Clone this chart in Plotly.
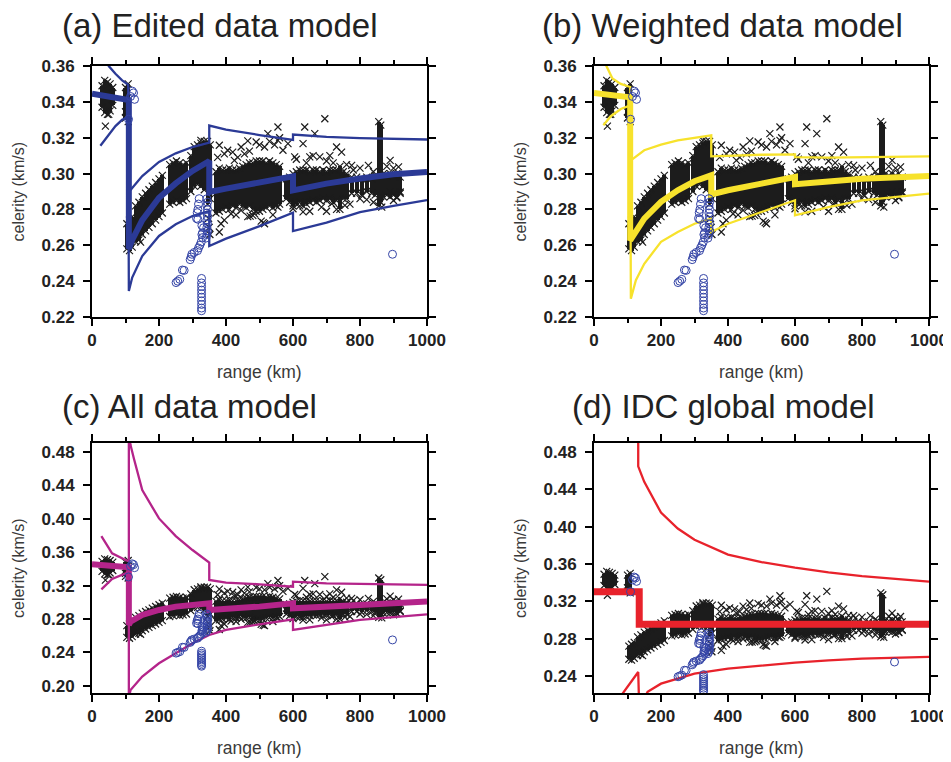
import plotly.graph_objects as go

# observed arrivals (same in all four panels)
# dense station clusters: range, lower and upper celerity of each column
cloud_x = [30, 38, 46, 54, 62, 100, 108, 104, 112, 120,
           130, 140, 150, 160, 170, 180, 190, 200, 210,
           232, 242, 252, 262, 272, 282, 295, 305, 315, 325, 335, 345, 353,
           370, 380, 390, 400, 410, 420, 430, 440, 450, 460, 470, 480, 490,
           500, 510, 520, 530, 540, 550, 560, 580, 590, 600, 610, 620, 630,
           640, 650, 660, 670, 680, 690, 700, 710, 720, 730, 740, 750, 760,
           775, 790, 805, 820, 835, 845, 856, 862, 870, 880, 890, 900, 910, 920]
cloud_lo = [0.337, 0.334, 0.333, 0.335, 0.338, 0.331, 0.329, 0.258, 0.257, 0.259,
            0.262, 0.263, 0.266, 0.268, 0.270, 0.272, 0.274, 0.276, 0.278,
            0.283, 0.284, 0.285, 0.284, 0.285, 0.286, 0.290, 0.293, 0.294, 0.293, 0.291, 0.283, 0.286,
            0.278, 0.279, 0.280, 0.281, 0.280, 0.282, 0.281, 0.283, 0.282, 0.281, 0.282, 0.280, 0.279,
            0.279, 0.280, 0.281, 0.282, 0.281, 0.282, 0.283, 0.286, 0.284, 0.282, 0.283, 0.284, 0.282,
            0.283, 0.284, 0.285, 0.284, 0.285, 0.286, 0.285, 0.286, 0.284, 0.285, 0.280, 0.286, 0.286,
            0.289, 0.289, 0.288, 0.290, 0.289, 0.288, 0.282, 0.284, 0.287, 0.288, 0.287, 0.288, 0.287, 0.289]
cloud_hi = [0.349, 0.352, 0.351, 0.350, 0.348, 0.348, 0.350, 0.272, 0.274, 0.276,
            0.282, 0.284, 0.287, 0.289, 0.291, 0.293, 0.295, 0.297, 0.299,
            0.305, 0.306, 0.307, 0.306, 0.305, 0.306, 0.310, 0.315, 0.316, 0.317, 0.318, 0.318, 0.316,
            0.301, 0.303, 0.302, 0.302, 0.303, 0.302, 0.302, 0.303, 0.304, 0.305, 0.306, 0.306, 0.307,
            0.307, 0.307, 0.306, 0.307, 0.306, 0.305, 0.304, 0.297, 0.298, 0.300, 0.301, 0.302, 0.302,
            0.302, 0.301, 0.302, 0.302, 0.301, 0.302, 0.301, 0.302, 0.302, 0.302, 0.304, 0.301, 0.300,
            0.298, 0.298, 0.297, 0.298, 0.297, 0.299, 0.329, 0.327, 0.300, 0.299, 0.300, 0.299, 0.300, 0.298]

# isolated arrivals
scatter_x = [40, 50, 100, 145, 135, 325, 348, 350, 352,
             380, 405, 425, 445, 465, 490, 515, 525, 555, 555, 585, 570, 605, 630, 635,
             665, 695, 730, 745, 775, 825, 890, 915, 680, 650,
             385, 380, 415, 445, 480, 485, 515, 555, 600, 630, 685, 715, 755, 800, 865,
             890, 920, 511, 472,
             375, 395, 420, 435, 455, 470, 500, 530, 545, 560, 395, 430, 465, 505, 540,
             610, 640, 660, 700, 710, 720, 760, 780, 800, 840, 880, 900,
             620, 650, 700, 730, 770, 820, 840, 900, 910]
scatter_y = [0.3265, 0.333, 0.3345, 0.2618, 0.2646, 0.3185, 0.275, 0.270, 0.266,
             0.3158, 0.313, 0.3074, 0.3148, 0.3182, 0.3176, 0.3148, 0.3223, 0.326, 0.3185, 0.3167, 0.313, 0.3093, 0.3167, 0.326,
             0.3223, 0.3306, 0.3148, 0.312, 0.3046, 0.3046, 0.3074, 0.3037, 0.3093, 0.3093,
             0.272, 0.2674, 0.2776, 0.2795, 0.2767, 0.2776, 0.272, 0.2813, 0.2804, 0.2786, 0.2813, 0.2832, 0.2823, 0.286, 0.2813,
             0.2897, 0.2897, 0.2726, 0.2763,
             0.309, 0.311, 0.312, 0.309, 0.311, 0.3125, 0.316, 0.318, 0.316, 0.320, 0.274, 0.277, 0.276, 0.2735, 0.277,
             0.308, 0.306, 0.310, 0.307, 0.310, 0.306, 0.305, 0.302, 0.303, 0.301, 0.304, 0.303,
             0.282, 0.279, 0.279, 0.280, 0.283, 0.2855, 0.284, 0.285, 0.2865]

# excluded arrivals (open circles)
circle_x = [109, 115, 120, 124, 127,
            251, 256, 262, 270, 275, 293, 296, 298, 305, 315, 318, 322, 326, 330, 328, 330, 333,
            328, 316, 312, 314, 316, 318, 320,
            327, 327, 327, 327, 327, 327, 327, 327, 327, 327,
            343, 345, 343, 345, 343, 345, 343, 345, 343, 345, 343, 340,
            897]
circle_y = [0.3303, 0.343, 0.346, 0.345, 0.3414,
            0.2392, 0.2400, 0.2410, 0.2462, 0.2460, 0.2520, 0.2535, 0.2550, 0.2560, 0.2570, 0.2585, 0.2600, 0.2618, 0.2643, 0.2660, 0.2670, 0.2698,
            0.2710, 0.2745, 0.2750, 0.2782, 0.2800, 0.2830, 0.2860,
            0.2415, 0.2390, 0.2370, 0.2350, 0.2330, 0.2310, 0.2290, 0.2270, 0.2250, 0.2235,
            0.2860, 0.2840, 0.2820, 0.2800, 0.2780, 0.2760, 0.2740, 0.2720, 0.2700, 0.2680, 0.2660, 0.2640,
            0.2550]

# (a) edited data model
a_mid_x = [0, 50, 105, 110, 110, 120, 150, 200, 250, 300, 350, 350, 400, 500, 600, 600, 700, 800, 900, 1000]
a_mid_y = [0.3445, 0.343, 0.341, 0.341, 0.258, 0.263, 0.274, 0.2865, 0.2945, 0.3015, 0.307, 0.2897, 0.2916, 0.2953, 0.2985, 0.2906, 0.2944, 0.2972, 0.2996, 0.3009]
a_up_x = [30, 50, 70, 90, 108, 110, 120, 150, 200, 250, 300, 350, 350, 400, 500, 600, 600, 700, 800, 1000]
a_up_y = [0.368, 0.360, 0.3557, 0.352, 0.3495, 0.2897, 0.292, 0.2986, 0.3065, 0.3113, 0.3148, 0.3172, 0.3268, 0.3245, 0.3215, 0.3188, 0.3218, 0.3205, 0.3198, 0.319]
a_lo_x = [25, 50, 70, 90, 108, 110, 120, 150, 200, 250, 300, 350, 350, 400, 500, 600, 600, 700, 800, 900, 1000]
a_lo_y = [0.3155, 0.322, 0.3265, 0.330, 0.3315, 0.2345, 0.242, 0.254, 0.2652, 0.2717, 0.2763, 0.2791, 0.2596, 0.2637, 0.2707, 0.2782, 0.2679, 0.2726, 0.2785, 0.2820, 0.2852]

# (b) weighted data model
b_mid_x = [0, 50, 105, 108, 108, 125, 150, 200, 250, 300, 350, 350, 400, 500, 600, 600, 700, 800, 1000]
b_mid_y = [0.345, 0.344, 0.3427, 0.3425, 0.2627, 0.268, 0.2749, 0.2842, 0.2907, 0.2957, 0.299, 0.2884, 0.2907, 0.2944, 0.2981, 0.294, 0.2957, 0.2971, 0.2986]
b_up_x = [30, 37, 55, 80, 108, 110, 150, 200, 250, 300, 350, 350, 400, 500, 600, 600, 700, 1000]
b_up_y = [0.364, 0.36, 0.353, 0.350, 0.3483, 0.3074, 0.313, 0.3161, 0.3185, 0.32, 0.3213, 0.3096, 0.31, 0.3105, 0.3107, 0.3092, 0.3089, 0.3096]
b_lo_x = [28, 50, 80, 108, 110, 125, 150, 200, 250, 300, 350, 350, 400, 500, 600, 600, 700, 800, 1000]
b_lo_y = [0.3269, 0.332, 0.336, 0.338, 0.2302, 0.2405, 0.2497, 0.2619, 0.2674, 0.272, 0.2749, 0.2674, 0.272, 0.2786, 0.2851, 0.2767, 0.2813, 0.285, 0.2888]

# (c) all data model
c_mid_x = [0, 50, 100, 110, 110, 115, 150, 200, 250, 300, 350, 350, 400, 500, 600, 600, 800, 1000]
c_mid_y = [0.3454, 0.344, 0.3426, 0.342, 0.2729, 0.2769, 0.2848, 0.2908, 0.2948, 0.2968, 0.2988, 0.2908, 0.292, 0.2948, 0.2988, 0.2928, 0.2968, 0.3008]
c_up_x = [28, 60, 100, 110, 110, 115, 125, 150, 200, 250, 300, 350, 350, 400, 500, 600, 600, 700, 1000]
c_up_y = [0.3792, 0.3585, 0.3505, 0.349, 0.50, 0.488, 0.472, 0.4342, 0.4003, 0.3792, 0.3625, 0.3474, 0.3267, 0.3235, 0.3215, 0.3187, 0.3247, 0.3227, 0.3207]
c_lo_x = [28, 60, 100, 110, 110, 115, 150, 200, 250, 300, 350, 400, 500, 600, 600, 700, 800, 1000]
c_lo_y = [0.3155, 0.328, 0.3346, 0.335, 0.185, 0.1952, 0.2111, 0.2271, 0.239, 0.251, 0.2609, 0.2669, 0.2737, 0.2797, 0.2669, 0.2729, 0.2789, 0.2856]

# (d) IDC global model
d_mid_x = [0, 135, 135, 1000]
d_mid_y = [0.3303, 0.3303, 0.2955, 0.2955]
d_up_x = [132, 132, 150, 200, 250, 300, 400, 500, 600, 700, 800, 1000]
d_up_y = [0.50, 0.4646, 0.448, 0.415, 0.398, 0.386, 0.370, 0.362, 0.356, 0.351, 0.347, 0.341]
d_lo_x = [85, 132, 135, 160, 200, 300, 400, 500, 600, 700, 800, 1000]
d_lo_y = [0.221, 0.2443, 0.205, 0.223, 0.2318, 0.2425, 0.2479, 0.2514, 0.2543, 0.2568, 0.2586, 0.2604]

# page body has an 8px margin, so the figure starts 8px in from the corner
OFF = 8
W, H = 951 - OFF, 762 - OFF


def fx(p):
    return (p - OFF) / W


def fy(p):
    return 1 - (p - OFF) / H


panels = [
    dict(title='(a) Edited data model', color='#2b3a96', px=(92, 427), py=(66, 317),
         yr=[0.22, 0.36], yt=[0.22, 0.24, 0.26, 0.28, 0.30, 0.32, 0.34, 0.36],
         curves=[(a_lo_x, a_lo_y), (a_up_x, a_up_y)], mid=(a_mid_x, a_mid_y), tx=60, ty=26, mw=6),
    dict(title='(b) Weighted data model', color='#f7e22c', px=(594, 929), py=(66, 317),
         yr=[0.22, 0.36], yt=[0.22, 0.24, 0.26, 0.28, 0.30, 0.32, 0.34, 0.36],
         curves=[(b_lo_x, b_lo_y), (b_up_x, b_up_y)], mid=(b_mid_x, b_mid_y), tx=540, ty=26, mw=6),
    dict(title='(c) All data model', color='#b4248a', px=(92, 427), py=(443, 693),
         yr=[0.1915, 0.4905], yt=[0.20, 0.24, 0.28, 0.32, 0.36, 0.40, 0.44, 0.48],
         curves=[(c_lo_x, c_lo_y), (c_up_x, c_up_y)], mid=(c_mid_x, c_mid_y), tx=60, ty=406, mw=6),
    dict(title='(d) IDC global model', color='#e8222b', px=(594, 929), py=(443, 693),
         yr=[0.2218, 0.4896], yt=[0.24, 0.28, 0.32, 0.36, 0.40, 0.44, 0.48],
         curves=[(d_lo_x, d_lo_y), (d_up_x, d_up_y)], mid=(d_mid_x, d_mid_y), tx=570, ty=406, mw=7),
]

fig = go.Figure()
layout = {}
annotations = []
black = '#1c1c1c'
blue = '#3444a6'
font = 'Liberation Sans, Arial'

for i, p in enumerate(panels, start=1):
    xa = 'x' if i == 1 else 'x%d' % i
    ya = 'y' if i == 1 else 'y%d' % i
    heights = [h - l for l, h in zip(cloud_lo, cloud_hi)]
    fig.add_trace(go.Bar(x=cloud_x, y=heights, base=cloud_lo, width=12,
                         marker=dict(color=black, line=dict(width=0)),
                         xaxis=xa, yaxis=ya, showlegend=False, hoverinfo='skip'))
    fig.add_trace(go.Scatter(x=cloud_x + cloud_x + scatter_x, y=cloud_lo + cloud_hi + scatter_y,
                             mode='markers', xaxis=xa, yaxis=ya, showlegend=False,
                             marker=dict(symbol='x-thin', size=7, color=black,
                                         line=dict(width=1.2, color=black))))
    for cx, cy in p['curves']:
        fig.add_trace(go.Scatter(x=cx, y=cy, mode='lines', xaxis=xa, yaxis=ya, showlegend=False,
                                 line=dict(color=p['color'], width=2.3)))
    fig.add_trace(go.Scatter(x=p['mid'][0], y=p['mid'][1], mode='lines', xaxis=xa, yaxis=ya,
                             showlegend=False, line=dict(color=p['color'], width=p['mw'])))
    fig.add_trace(go.Scatter(x=circle_x, y=circle_y, mode='markers', xaxis=xa, yaxis=ya,
                             showlegend=False,
                             marker=dict(symbol='circle-open', size=8, color=blue,
                                         line=dict(width=1, color=blue))))

    axis_common = dict(showline=True, linewidth=2, linecolor='black', mirror='ticks',
                       ticks='outside', ticklen=7, tickwidth=2, tickcolor='black',
                       showgrid=False, zeroline=False, automargin=False,
                       ticklabeloverflow='allow',
                       tickfont=dict(family=font, size=17, color='#222222', weight='bold'))
    layout['xaxis' if i == 1 else 'xaxis%d' % i] = dict(
        axis_common, domain=[fx(p['px'][0]), fx(p['px'][1])], anchor=ya,
        range=[0, 1000], tick0=0, dtick=200,
        minor=dict(tick0=0, dtick=100, ticks='outside', ticklen=4, tickwidth=1.5, tickcolor='black'))
    layout['yaxis' if i == 1 else 'yaxis%d' % i] = dict(
        axis_common, domain=[fy(p['py'][1]), fy(p['py'][0])], anchor=xa,
        range=p['yr'], tickvals=p['yt'], tickformat='.2f', ticklabelstandoff=5)

    annotations.append(dict(text=p['title'], x=fx(p['tx']), y=fy(p['ty']),
                            xref='paper', yref='paper', xanchor='left', yanchor='middle',
                            showarrow=False, font=dict(family=font, size=33, color='#222222')))
    annotations.append(dict(text='celerity (km/s)', x=fx(p['px'][0] - 74),
                            y=fy((p['py'][0] + p['py'][1]) / 2),
                            xref='paper', yref='paper', xanchor='center', yanchor='middle',
                            textangle=-90, showarrow=False,
                            font=dict(family=font, size=16, color='#3a3a3a')))
    annotations.append(dict(text='range (km)', x=fx((p['px'][0] + p['px'][1]) / 2),
                            y=fy(p['py'][1] + 55),
                            xref='paper', yref='paper', xanchor='center', yanchor='middle',
                            showarrow=False, font=dict(family=font, size=17.5, color='#3a3a3a')))

fig.update_layout(**layout)
fig.update_layout(width=W, height=H, margin=dict(l=0, r=0, t=0, b=0),
                  paper_bgcolor='white', plot_bgcolor='white', barmode='overlay',
                  bargap=0, annotations=annotations)

fig.write_html("out.html")
